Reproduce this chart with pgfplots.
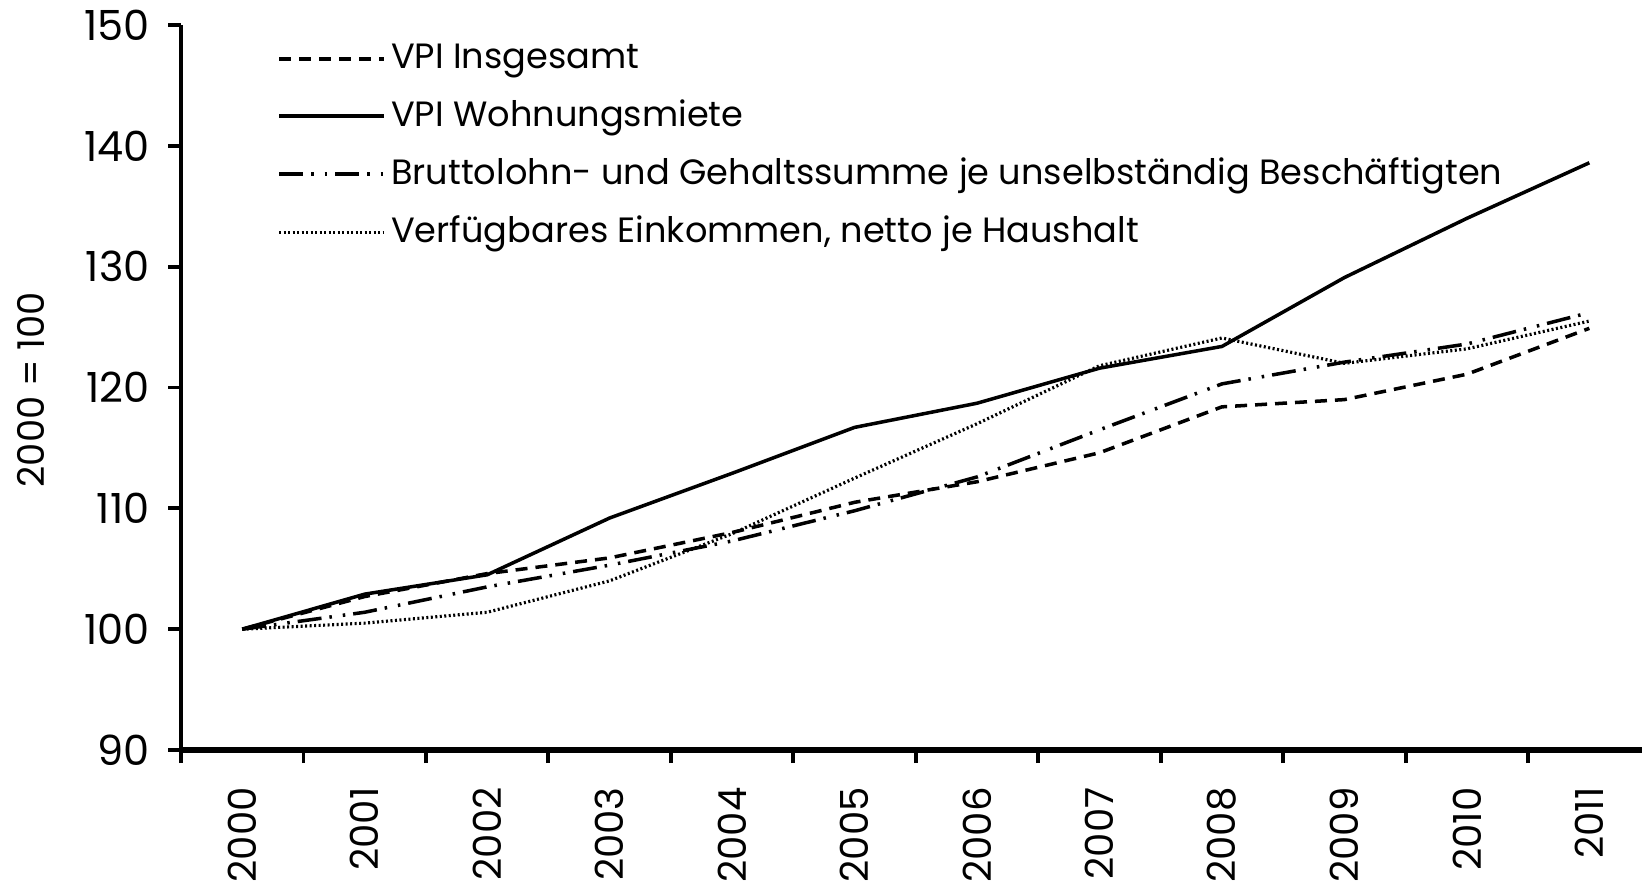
\documentclass[border=0pt]{standalone}
\usepackage{fontspec}
\setmainfont{Poppins}
\usepackage{pgfplots}
\pgfplotsset{compat=1.18}
\newcommand{\cf}{\fontsize{10}{12}\selectfont}
\newcommand{\nf}{\fontsize{11.8}{13}\selectfont}
\newcommand{\xf}{\fontsize{11}{13}\selectfont}
\begin{document}
\begin{tikzpicture}
\begin{axis}[
  at={(18.1mm,13.5mm)}, anchor=south west,
  scale only axis, width=146.1mm, height=72.5mm,
  xmin=-0.5, xmax=11.43, ymin=90, ymax=150,
  clip=false,
  axis x line=bottom, axis y line=left,
  axis line style={line width=1.3pt, -},
  x axis line style={line width=1.6pt},
  ytick={90,100,...,150},
  xtick={-0.5,0.5,...,10.5}, xticklabels={},
  extra x ticks={0,...,11},
  extra x tick labels={2000,2001,2002,2003,2004,2005,2006,2007,2008,2009,2010,2011},
  extra x tick style={major tick length=0pt, xticklabel style={rotate=90, anchor=east, font=\xf, xshift=-2.5mm}},
  tick align=outside, major tick length=1.3mm,
  tick style={line width=1.1pt, black},
  yticklabel style={font=\nf, xshift=-0.6mm},
  /pgf/number format/assume math mode=true,
  ylabel={2000 = 100},
  ylabel style={font=\fontsize{10.5}{12}\selectfont, at={(axis description cs:-0.1027,0.497)}, anchor=center},
  legend style={draw=none, fill=none, at={(rel axis cs:0.0655,0.982)}, anchor=north west,
    font=\cf, row sep=1.55mm, inner sep=0pt, nodes={inner sep=1.5pt}},
  legend cell align=left,
  legend image code/.code={\draw[#1] (0mm,0mm) -- (10.5mm,0mm);},
]
\addplot[black, line width=1pt, dash pattern=on 1.2mm off 0.8mm] coordinates {
(0,100) (1,102.7) (2,104.6) (3,105.9) (4,108.0) (5,110.5) (6,112.2) (7,114.6) (8,118.4) (9,119.0) (10,121.1) (11,124.9)};
\addlegendentry{VPI Insgesamt}
\addplot[black, line width=1pt] coordinates {
(0,100) (1,102.9) (2,104.5) (3,109.2) (4,112.9) (5,116.7) (6,118.7) (7,121.6) (8,123.4) (9,129.1) (10,134.0) (11,138.6)};
\addlegendentry{VPI Wohnungsmiete}
\addplot[black, line width=1pt, dash pattern=on 2.4mm off 0.8mm on 0.25mm off 1.1mm on 0.25mm off 0.8mm] coordinates {
(0,100) (1,101.4) (2,103.5) (3,105.3) (4,107.3) (5,109.8) (6,112.6) (7,116.5) (8,120.3) (9,122.1) (10,123.6) (11,126.2)};
\addlegendentry{Bruttolohn- und Gehaltssumme je unselbständig Beschäftigten}
\addplot[black, line width=0.9pt, dash pattern=on 0.2mm off 0.25mm] coordinates {
(0,100) (1,100.5) (2,101.4) (3,104.0) (4,107.9) (5,112.5) (6,117.0) (7,121.8) (8,124.1) (9,122.0) (10,123.2) (11,125.5)};
\addlegendentry{Verfügbares Einkommen, netto je Haushalt}
\end{axis}
\pgfresetboundingbox
\useasboundingbox (0,0) rectangle (164.2mm,88.5mm);
\end{tikzpicture}
\end{document}
